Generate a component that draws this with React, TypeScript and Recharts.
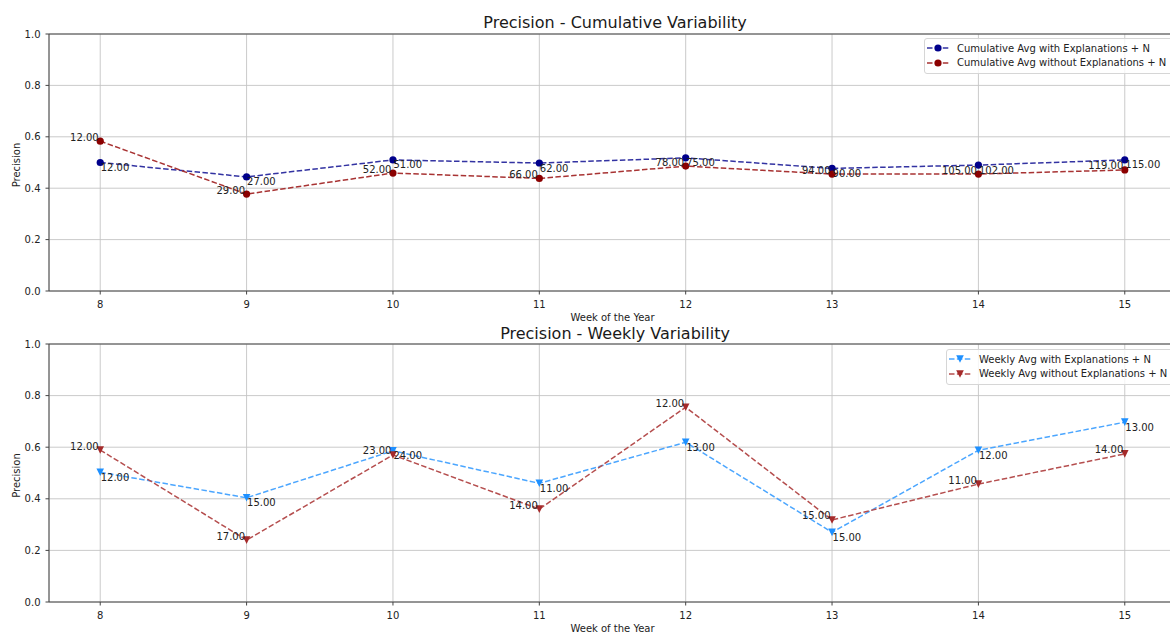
import { LineChart, Line, XAxis, YAxis, CartesianGrid, LabelList, Legend, ReferenceLine } from 'recharts'

const weeks = [8, 9, 10, 11, 12, 13, 14, 15]

// cumulative precision and running N
const cumWith = [0.5, 0.444, 0.51, 0.498, 0.518, 0.477, 0.49, 0.51]
const cumWithout = [0.583, 0.377, 0.459, 0.438, 0.486, 0.455, 0.455, 0.471]
const cumNWith = [12, 27, 51, 62, 75, 90, 102, 115]
const cumNWithout = [12, 29, 52, 66, 78, 94, 105, 119]

// weekly precision and weekly N
const weeklyWith = [0.503, 0.404, 0.586, 0.46, 0.619, 0.27, 0.588, 0.697]
const weeklyWithout = [0.589, 0.24, 0.57, 0.36, 0.755, 0.318, 0.457, 0.574]
const weeklyNWith = [12, 15, 24, 11, 13, 15, 12, 13]
const weeklyNWithout = [12, 17, 23, 14, 12, 15, 11, 14]

const yTicks = [0, 0.2, 0.4, 0.6, 0.8, 1.0]

const FONT = '"DejaVu Sans", Verdana, sans-serif'
const AXIS = '#444'
const TEXT = '#222'

const cumData = weeks.map((week, i) => ({
  week,
  with: cumWith[i],
  without: cumWithout[i],
  nWith: cumNWith[i],
  nWithout: cumNWithout[i]
}))

const weeklyData = weeks.map((week, i) => ({
  week,
  with: weeklyWith[i],
  without: weeklyWithout[i],
  nWith: weeklyNWith[i],
  nWithout: weeklyNWithout[i]
}))

const circleDot = (color: string) => (p: any) => {
  if (p.cx == null || p.cy == null) return <g key={`c-${p.index}`} />
  return <circle key={`c-${p.index}`} cx={p.cx} cy={p.cy} r={3.6} fill={color} />
}

const triDot = (color: string) => (p: any) => {
  if (p.cx == null || p.cy == null) return <g key={`t-${p.index}`} />
  const s = 3.8
  return (
    <path
      key={`t-${p.index}`}
      d={`M${p.cx - s},${p.cy - s}L${p.cx + s},${p.cy - s}L${p.cx},${p.cy + s}Z`}
      fill={color}
    />
  )
}

const labelBelowRight = (p: any) => (
  <text x={p.x + 0.5} y={p.y + 8.5} fontSize={10} fontFamily={FONT} fill={TEXT}>
    {Number(p.value).toFixed(2)}
  </text>
)

const labelAboveLeft = (p: any) => (
  <text x={p.x - 1.5} y={p.y - 0.5} textAnchor="end" fontSize={10} fontFamily={FONT} fill={TEXT}>
    {Number(p.value).toFixed(2)}
  </text>
)

const yLabel = (props: any) => {
  const vb = props.viewBox || {}
  const cy = (vb.y ?? 0) + (vb.height ?? 0) / 2 + 2.5
  return (
    <text
      x={16}
      y={cy}
      transform={`rotate(-90, 16, ${cy})`}
      textAnchor="middle"
      dominantBaseline="central"
      fontSize={10}
      fontFamily={FONT}
      fill={TEXT}
    >
      Precision
    </text>
  )
}

interface LegendItem {
  label: string
  color: string
  lineColor: string
  marker: 'circle' | 'tri'
}

function LegendBox({ items }: { items: LegendItem[] }) {
  return (
    <div
      style={{
        background: 'rgba(255,255,255,0.8)',
        border: '1px solid #d6d6d6',
        borderRadius: 3,
        padding: '2px 8px 3px 2px',
        fontFamily: FONT,
        fontSize: 10,
        color: TEXT,
        whiteSpace: 'nowrap'
      }}
    >
      {items.map((it) => (
        <div key={it.label} style={{ display: 'flex', alignItems: 'center', height: 14.5 }}>
          <svg width={22} height={10} style={{ flex: 'none' }}>
            <line x1={0} y1={5} x2={22} y2={5} stroke={it.lineColor} strokeWidth={1.5} strokeDasharray="5.5 2.4" />
            {it.marker === 'circle' ? (
              <circle cx={11} cy={5} r={3.6} fill={it.color} />
            ) : (
              <path d="M7.2,1.2L14.8,1.2L11,8.8Z" fill={it.color} />
            )}
          </svg>
          <span style={{ marginLeft: 8 }}>{it.label}</span>
        </div>
      ))}
    </div>
  )
}

interface PanelProps {
  data: typeof cumData
  height: number
  marginTop: number
  withColor: string
  withLine: string
  withoutColor: string
  withoutLine: string
  marker: 'circle' | 'tri'
  legendItems: LegendItem[]
  legendLeft: number
  legendTop: number
}

function Panel(props: PanelProps) {
  const dot = props.marker === 'circle' ? circleDot : triDot
  return (
    <LineChart
      width={1180}
      height={props.height}
      data={props.data}
      margin={{ top: props.marginTop, right: 4, bottom: 0, left: 0 }}
    >
      <CartesianGrid stroke="#c4c4c4" strokeWidth={0.9} />
      <XAxis
        dataKey="week"
        type="number"
        domain={[7.65, 15.35]}
        ticks={weeks}
        allowDataOverflow
        height={31}
        tickSize={3.5}
        tickMargin={6}
        tick={{ fontSize: 10, fill: TEXT, fontFamily: FONT }}
        axisLine={{ stroke: AXIS, strokeWidth: 1 }}
        tickLine={{ stroke: AXIS }}
        label={{ value: 'Week of the Year', position: 'insideBottom', offset: 1.5, fontSize: 10, fill: TEXT, fontFamily: FONT }}
      />
      <YAxis
        type="number"
        domain={[0, 1]}
        ticks={yTicks}
        tickFormatter={(v: number) => v.toFixed(1)}
        width={49}
        tickSize={3.5}
        tickMargin={5}
        tick={{ fontSize: 10, fill: TEXT, fontFamily: FONT }}
        axisLine={{ stroke: AXIS, strokeWidth: 1 }}
        tickLine={{ stroke: AXIS }}
        label={yLabel}
      />
      <ReferenceLine y={1} stroke={AXIS} strokeWidth={1} />
      <Line
        dataKey="with"
        type="linear"
        stroke={props.withLine}
        strokeWidth={1.5}
        strokeDasharray="5.5 2.4"
        dot={dot(props.withColor)}
        activeDot={false}
        isAnimationActive={false}
      >
        <LabelList dataKey="nWith" content={labelBelowRight} />
      </Line>
      <Line
        dataKey="without"
        type="linear"
        stroke={props.withoutLine}
        strokeWidth={1.5}
        strokeDasharray="5.5 2.4"
        dot={dot(props.withoutColor)}
        activeDot={false}
        isAnimationActive={false}
      >
        <LabelList dataKey="nWithout" content={labelAboveLeft} />
      </Line>
      <Legend
        layout="vertical"
        align="center"
        verticalAlign="middle"
        wrapperStyle={{ left: props.legendLeft, top: props.legendTop, width: 270 }}
        content={() => <LegendBox items={props.legendItems} />}
      />
    </LineChart>
  )
}

const titleStyle = {
  position: 'absolute' as const,
  left: 0,
  width: 1230,
  textAlign: 'center' as const,
  fontFamily: FONT,
  fontSize: 16,
  color: '#1a1a1a',
  pointerEvents: 'none' as const
}

export default function App() {
  return (
    <div
      style={{
        position: 'absolute',
        left: 0,
        top: 0,
        width: 1170,
        height: 633,
        overflow: 'hidden',
        background: '#fff'
      }}
    >
      <div style={{ position: 'absolute', left: 0, top: 0 }}>
        <Panel
          data={cumData}
          height={322}
          marginTop={34}
          withColor="#00008b"
          withLine="#3333a2"
          withoutColor="#8b0000"
          withoutLine="#a83333"
          marker="circle"
          legendLeft={924}
          legendTop={38}
          legendItems={[
            { label: 'Cumulative Avg with Explanations + N', color: '#00008b', lineColor: '#3333a2', marker: 'circle' },
            { label: 'Cumulative Avg without Explanations + N', color: '#8b0000', lineColor: '#a83333', marker: 'circle' }
          ]}
        />
      </div>
      <div style={{ position: 'absolute', left: 0, top: 322 }}>
        <Panel
          data={weeklyData}
          height={311}
          marginTop={22}
          withColor="#1e90ff"
          withLine="#4ba6ff"
          withoutColor="#a52a2a"
          withoutLine="#b54e4e"
          marker="tri"
          legendLeft={946}
          legendTop={27}
          legendItems={[
            { label: 'Weekly Avg with Explanations + N', color: '#1e90ff', lineColor: '#4ba6ff', marker: 'tri' },
            { label: 'Weekly Avg without Explanations + N', color: '#a52a2a', lineColor: '#b54e4e', marker: 'tri' }
          ]}
        />
      </div>
      <div style={{ ...titleStyle, top: 13 }}>Precision - Cumulative Variability</div>
      <div style={{ ...titleStyle, top: 324 }}>Precision - Weekly Variability</div>
    </div>
  )
}
